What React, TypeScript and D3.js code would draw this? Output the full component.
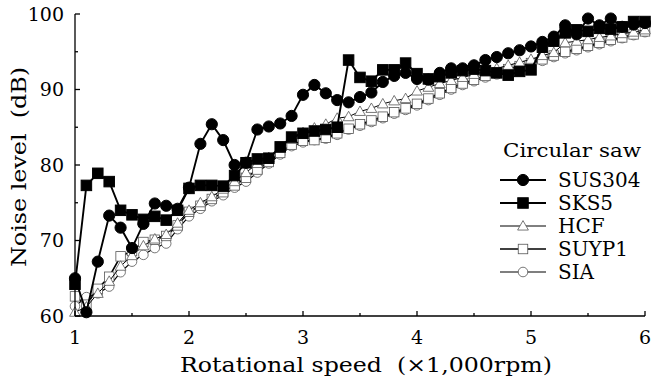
import { useEffect, useRef } from 'react'
import * as d3 from 'd3'

// rotational speed (x1,000 rpm)
const speeds = [
  1.0, 1.1, 1.2, 1.3, 1.4, 1.5, 1.6, 1.7, 1.8, 1.9,
  2.0, 2.1, 2.2, 2.3, 2.4, 2.5, 2.6, 2.7, 2.8, 2.9,
  3.0, 3.1, 3.2, 3.3, 3.4, 3.5, 3.6, 3.7, 3.8, 3.9,
  4.0, 4.1, 4.2, 4.3, 4.4, 4.5, 4.6, 4.7, 4.8, 4.9,
  5.0, 5.1, 5.2, 5.3, 5.4, 5.5, 5.6, 5.7, 5.8, 5.9,
  6.0
]

// noise level (dB) per saw
const sus304 = [
  65.0, 60.5, 67.2, 73.3, 71.7, 69.0, 72.2, 74.9, 74.6, 74.2,
  77.0, 82.8, 85.4, 83.3, 80.0, 80.3, 84.7, 85.1, 85.5, 86.5,
  89.3, 90.6, 89.5, 88.6, 88.3, 89.0, 89.6, 91.0, 91.8, 92.2,
  91.4, 91.3, 92.2, 92.8, 92.8, 93.2, 93.9, 94.3, 94.8, 95.2,
  95.7, 96.3, 97.0, 98.5, 97.3, 99.4, 98.5, 99.4, 98.3, 98.6,
  98.8
]
const sks5 = [
  64.2, 77.3, 78.9, 77.8, 74.0, 73.4, 72.8, 73.2, 72.7, 74.0,
  76.9, 77.3, 77.3, 77.2, 78.6, 80.3, 80.8, 80.9, 82.4, 83.7,
  84.2, 84.5, 84.7, 85.0, 93.9, 91.6, 91.1, 92.6, 92.6, 93.5,
  92.1, 91.4, 91.7, 92.2, 92.5, 92.7, 92.5, 92.2, 91.9, 92.4,
  92.6, 95.6, 96.4, 97.5, 97.9, 97.7, 98.1, 98.0, 98.3, 99.0,
  99.0
]
const hcf = [
  60.5, 61.2, 63.0, 64.6, 66.6, 68.0, 69.3, 70.2, 70.8, 72.3,
  74.0, 75.0, 75.8, 76.8, 77.8, 79.0, 80.2, 81.0, 82.2, 83.4,
  84.3, 84.9, 85.4, 86.2, 86.4, 87.1, 87.5, 88.1, 88.5, 88.8,
  89.8, 90.3, 90.8, 91.2, 91.6, 92.0, 92.4, 92.8, 93.2, 93.6,
  94.0, 94.5, 94.9, 96.2, 96.4, 96.6, 96.9, 97.1, 97.4, 97.6,
  97.9
]
const suyp1 = [
  62.6, 61.5, 63.6, 65.2, 67.9, 68.6, 69.8, 70.1, 70.6, 72.0,
  73.8, 74.6, 75.5, 76.4, 77.3, 78.3, 79.4, 80.4, 81.6, 82.7,
  83.2, 83.3, 83.6, 84.2, 84.8, 85.4, 85.9, 86.4, 87.0, 87.5,
  88.1, 88.8, 89.5, 90.2, 90.8, 91.3, 91.8, 92.2, 92.7, 93.1,
  93.5, 94.0, 94.5, 95.0, 95.4, 95.8, 96.2, 96.6, 96.9, 97.3,
  97.7
]
const sia = [
  61.3, 62.5, 63.0, 63.9, 65.8, 67.2, 68.1, 69.0, 69.6, 71.5,
  73.2, 74.2, 75.2, 76.0, 77.0, 77.8, 79.0, 80.2, 81.4, 82.5,
  83.0, 83.3, 83.5, 84.0, 84.7, 85.2, 85.7, 86.2, 86.8, 87.3,
  87.9, 88.6, 89.3, 90.0, 90.6, 91.1, 91.6, 92.0, 92.5, 92.9,
  93.3, 93.8, 94.3, 94.8, 95.2, 95.6, 96.0, 96.4, 96.8, 97.2,
  97.6
]

const xTicks = [1, 2, 3, 4, 5, 6]
const yTicks = [60, 70, 80, 90, 100]

type Marker = 'circle' | 'square' | 'triangle'

const series: { name: string; values: number[]; marker: Marker; filled: boolean; lineWidth: number }[] = [
  { name: 'SIA', values: sia, marker: 'circle', filled: false, lineWidth: 1.2 },
  { name: 'SUYP1', values: suyp1, marker: 'square', filled: false, lineWidth: 1.6 },
  { name: 'HCF', values: hcf, marker: 'triangle', filled: false, lineWidth: 1 },
  { name: 'SKS5', values: sks5, marker: 'square', filled: true, lineWidth: 1.9 },
  { name: 'SUS304', values: sus304, marker: 'circle', filled: true, lineWidth: 1.9 }
]

const legendOrder = ['SUS304', 'SKS5', 'HCF', 'SUYP1', 'SIA']

const FONT = '"DejaVu Serif", serif'

const App = () => {
  const svgRef = useRef<SVGSVGElement>(null)

  useEffect(() => {
    if (!svgRef.current) return
    const svg = d3.select(svgRef.current)
    svg.selectAll('*').remove()

    const width = 654
    const height = 386
    const left = 75
    const right = 645
    const top = 14
    const bottom = 316

    svg.attr('width', width).attr('height', height).attr('viewBox', `0 0 ${width} ${height}`)

    const x = d3.scaleLinear().domain([1, 6]).range([left, right])
    const y = d3.scaleLinear().domain([60, 100]).range([bottom, top])

    // draw a marker symbol centred on (cx, cy)
    const drawMarker = (
      g: d3.Selection<SVGGElement, unknown, null, undefined>,
      cx: number,
      cy: number,
      marker: Marker,
      filled: boolean
    ) => {
      const fill = filled ? '#000' : '#fff'
      const stroke = filled ? '#000' : '#555'
      const sw = filled ? 1 : 0.8
      if (marker === 'circle') {
        const r = filled ? 5.6 : 4.8
        g.append('circle').attr('cx', cx).attr('cy', cy).attr('r', r)
          .attr('fill', fill).attr('stroke', stroke).attr('stroke-width', sw)
      } else if (marker === 'square') {
        const s = filled ? 10.5 : 9.5
        g.append('rect').attr('x', cx - s / 2).attr('y', cy - s / 2).attr('width', s).attr('height', s)
          .attr('fill', fill).attr('stroke', stroke).attr('stroke-width', sw)
      } else {
        const s = 5.4
        g.append('path')
          .attr('d', `M${cx},${cy - s} L${cx + s},${cy + s * 0.75} L${cx - s},${cy + s * 0.75} Z`)
          .attr('fill', fill).attr('stroke', stroke).attr('stroke-width', sw)
      }
    }

    const plot = svg.append('g')

    const line = d3.line<number>()
      .x((_, i) => x(speeds[i]))
      .y(d => y(d))

    series.forEach(s => {
      plot.append('path')
        .attr('d', line(s.values))
        .attr('fill', 'none')
        .attr('stroke', '#000')
        .attr('stroke-width', s.lineWidth)
      const mg = plot.append('g')
      s.values.forEach((v, i) => drawMarker(mg, x(speeds[i]), y(v), s.marker, s.filled))
    })

    // axes
    const axes = svg.append('g').attr('stroke', '#000').attr('stroke-width', 1.3)
    axes.append('line').attr('x1', left).attr('x2', left).attr('y1', top).attr('y2', bottom)
    axes.append('line').attr('x1', left).attr('x2', right).attr('y1', bottom).attr('y2', bottom)

    yTicks.forEach(t => {
      axes.append('line').attr('x1', left).attr('x2', left + 5).attr('y1', y(t)).attr('y2', y(t))
    })
    d3.range(65, 100, 10).forEach(t => {
      axes.append('line').attr('x1', left).attr('x2', left + 3).attr('y1', y(t)).attr('y2', y(t))
    })
    xTicks.forEach(t => {
      axes.append('line').attr('x1', x(t)).attr('x2', x(t)).attr('y1', bottom).attr('y2', bottom - 5)
    })
    d3.range(1.5, 6, 1).forEach(t => {
      axes.append('line').attr('x1', x(t)).attr('x2', x(t)).attr('y1', bottom).attr('y2', bottom - 3)
    })

    const labels = svg.append('g').attr('font-family', FONT).attr('fill', '#000')

    yTicks.forEach(t => {
      labels.append('text')
        .attr('x', 64)
        .attr('y', y(t))
        .attr('dy', '0.36em')
        .attr('text-anchor', 'end')
        .style('font-size', '19px')
        .text(t)
    })
    xTicks.forEach(t => {
      labels.append('text')
        .attr('x', x(t))
        .attr('y', 344)
        .attr('text-anchor', 'middle')
        .style('font-size', '19px')
        .text(t)
    })

    labels.append('text')
      .attr('x', 180)
      .attr('y', 372)
      .attr('textLength', 372)
      .attr('lengthAdjust', 'spacingAndGlyphs')
      .style('font-size', '21px')
      .style('white-space', 'pre')
      .text('Rotational speed  (×1,000rpm)')

    labels.append('text')
      .attr('transform', 'translate(26,267) rotate(-90)')
      .attr('textLength', 200)
      .attr('lengthAdjust', 'spacingAndGlyphs')
      .style('font-size', '21px')
      .style('white-space', 'pre')
      .text('Noise level  (dB)')

    // legend
    const legend = svg.append('g')
    legend.append('text')
      .attr('x', 503)
      .attr('y', 157)
      .attr('font-family', FONT)
      .attr('textLength', 138)
      .attr('lengthAdjust', 'spacingAndGlyphs')
      .style('font-size', '19px')
      .text('Circular saw')

    legendOrder.forEach((name, i) => {
      const s = series.find(d => d.name === name)!
      const cy = 180 + i * 23
      legend.append('line')
        .attr('x1', 500).attr('x2', 546).attr('y1', cy).attr('y2', cy)
        .attr('stroke', '#000').attr('stroke-width', s.lineWidth)
      drawMarker(legend as any, 523, cy, s.marker, s.filled)
      legend.append('text')
        .attr('x', 558)
        .attr('y', cy)
        .attr('dy', '0.36em')
        .attr('font-family', FONT)
        .style('font-size', '20px')
        .text(name)
    })
  }, [])

  return (
    <svg ref={svgRef} style={{ position: 'absolute', left: 0, top: 0, background: '#fff' }} />
  )
}

export default App
